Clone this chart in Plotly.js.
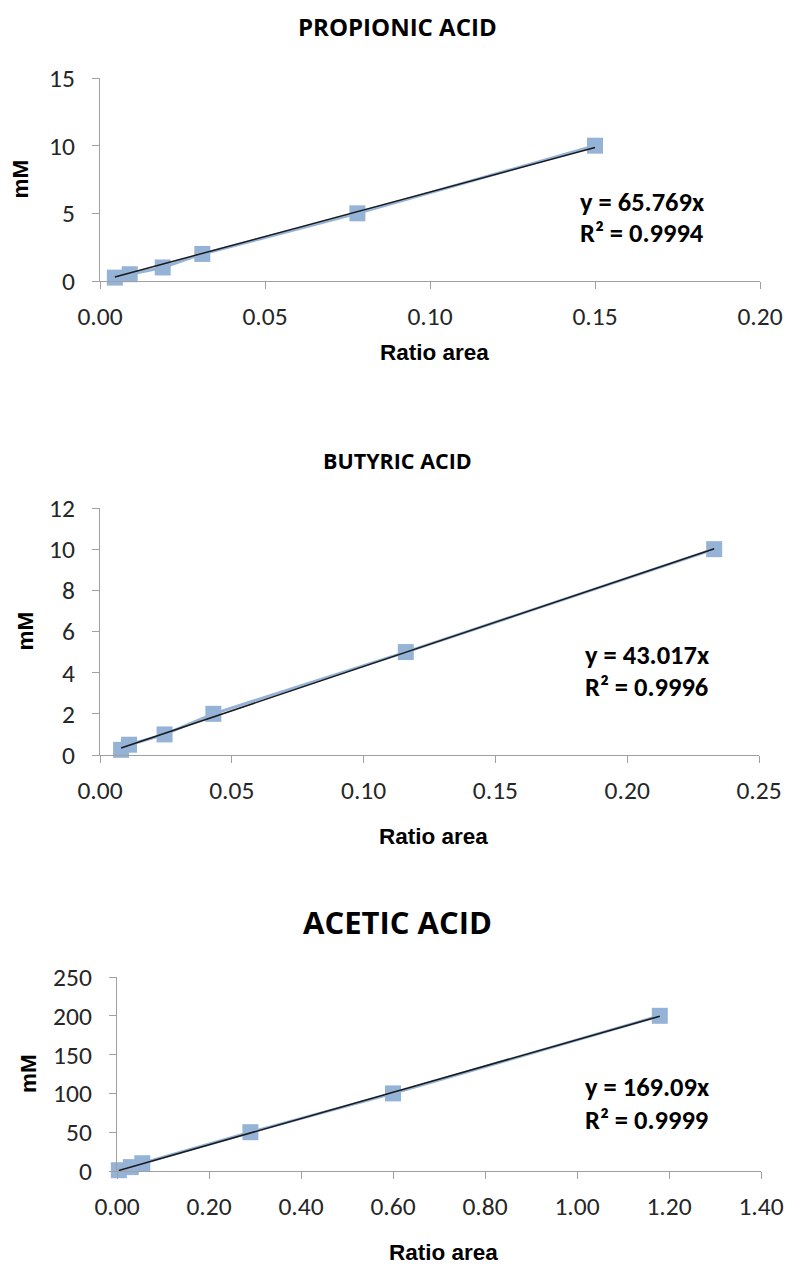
<!DOCTYPE html>
<html>
<head>
<meta charset="utf-8">
<script src="https://cdn.plot.ly/plotly-3.0.1.min.js"></script>
<style>
html,body{margin:0;padding:0;background:#fff;}
#chart{width:787px;height:1265px;}
</style>
</head>
<body>
<div id="chart"></div>
<script>
// ---- data ----
const titles = ["PROPIONIC ACID", "BUTYRIC ACID", "ACETIC ACID"];
const propionicX = [0.0045, 0.009, 0.019, 0.031, 0.078, 0.150];
const propionicY = [0.25, 0.5, 1, 2, 5, 10];
const butyricX = [0.008, 0.011, 0.0245, 0.043, 0.116, 0.233];
const butyricY = [0.25, 0.5, 1, 2, 5, 10];
const aceticX = [0.004, 0.03, 0.055, 0.29, 0.60, 1.18];
const aceticY = [1, 5, 10, 50, 100, 200];
const slopes = [65.769, 43.017, 169.09];
const r2 = ["0.9994", "0.9996", "0.9999"];
const slopeLabels = ["65.769", "43.017", "169.09"];

const W = 787, H = 1265;
const numFont = "Carlito, Calibri, 'Liberation Sans Narrow', sans-serif";
const titleFont = "'Open Sans', 'Noto Sans', sans-serif";
const boldFont = "'Liberation Sans', Arial, sans-serif";
const markerColor = "#95b3d7";
const axisColor = "#a0a0a0";

// plot areas in pixels: [left, right, top, bottom]
const boxes = [[100, 760, 78, 281], [100, 759, 508, 755], [117, 761, 977, 1171]];
const xRanges = [[0, 0.2], [0, 0.25], [0, 1.4]];
const yRanges = [[0, 15], [0, 12], [0, 250]];
const xDticks = [0.05, 0.05, 0.2];
const yDticks = [5, 2, 50];
const titleY = [27, 460, 922];
const titleSize = [24, 21.5, 31];
const eqPos = [[578, 202, 233], [583, 655, 687], [583, 1087, 1120]];
const yTitleX = [20, 25, 28];
const xTitleY = [353, 837, 1252];

const xs = [propionicX, butyricX, aceticX];
const ys = [propionicY, butyricY, aceticY];

const data = [];
const layout = {
  width: W, height: H,
  margin: {l: 0, r: 0, t: 0, b: 0},
  paper_bgcolor: "#fff", plot_bgcolor: "#fff",
  showlegend: false,
  annotations: []
};

for (let i = 0; i < 3; i++) {
  const s = i === 0 ? "" : String(i + 1);
  const [l, r, t, b] = boxes[i];
  const xa = "x" + s, ya = "y" + s;
  data.push({
    type: "scatter", mode: "lines+markers",
    x: xs[i], y: ys[i], xaxis: xa, yaxis: ya,
    line: {color: markerColor, width: 3},
    marker: {symbol: "square", size: 16, color: markerColor},
    cliponaxis: false, hoverinfo: "x+y"
  });
  const xmin = Math.min(...xs[i]), xmax = Math.max(...xs[i]);
  data.push({
    type: "scatter", mode: "lines",
    x: [xmin, xmax], y: [slopes[i] * xmin, slopes[i] * xmax],
    xaxis: xa, yaxis: ya,
    line: {color: "#1a1a1a", width: 1.5},
    cliponaxis: false, hoverinfo: "skip"
  });
  const common = {
    showgrid: false, zeroline: false, showline: true,
    linecolor: axisColor, linewidth: 1,
    ticks: "outside", ticklen: 7, tickcolor: axisColor, tickwidth: 1,
    tickfont: {family: numFont, size: 25.5, color: "#262626"},
    fixedrange: true
  };
  layout["xaxis" + s] = Object.assign({}, common, {
    domain: [l / W, r / W], anchor: ya,
    range: xRanges[i], dtick: xDticks[i], tick0: 0, tickformat: ".2f",
    ticklabelstandoff: 5
  });
  layout["yaxis" + s] = Object.assign({}, common, {
    domain: [1 - b / H, 1 - t / H], anchor: xa,
    range: yRanges[i], dtick: yDticks[i], tick0: 0,
    ticklen: 7, ticklabelstandoff: 12
  });
  // chart title
  layout.annotations.push({
    xref: "paper", yref: "paper", x: 398 / W, y: 1 - titleY[i] / H,
    xanchor: "center", yanchor: "middle", showarrow: false,
    text: "<b>" + titles[i] + "</b>",
    font: {family: titleFont, size: titleSize[i], color: "#000"}
  });
  // axis titles
  layout.annotations.push({
    xref: "paper", yref: "paper", x: ((l + r) / 2 + 4) / W, y: 1 - xTitleY[i] / H,
    xanchor: "center", yanchor: "middle", showarrow: false,
    text: "<b>Ratio area</b>",
    font: {family: boldFont, size: 22.5, color: "#000"}
  });
  layout.annotations.push({
    xref: "paper", yref: "paper", x: yTitleX[i] / W, y: 1 - ((t + b) / 2) / H,
    xanchor: "center", yanchor: "middle", showarrow: false, textangle: -90,
    text: "<b>mM</b>",
    font: {family: boldFont, size: 22.5, color: "#000"}
  });
  // equation
  const [ex, ey1, ey2] = eqPos[i];
  layout.annotations.push({
    xref: "paper", yref: "paper", x: ex / W, y: 1 - ey1 / H,
    xanchor: "left", yanchor: "middle", showarrow: false,
    text: "<b>y = " + slopeLabels[i] + "x</b>",
    font: {family: numFont, size: 26.5, color: "#000"}
  });
  layout.annotations.push({
    xref: "paper", yref: "paper", x: ex / W, y: 1 - ey2 / H,
    xanchor: "left", yanchor: "middle", showarrow: false,
    text: "<b>R² = " + r2[i] + "</b>",
    font: {family: numFont, size: 26.5, color: "#000"}
  });
}

Plotly.newPlot("chart", data, layout, {staticPlot: true, displayModeBar: false});
</script>
</body>
</html>
